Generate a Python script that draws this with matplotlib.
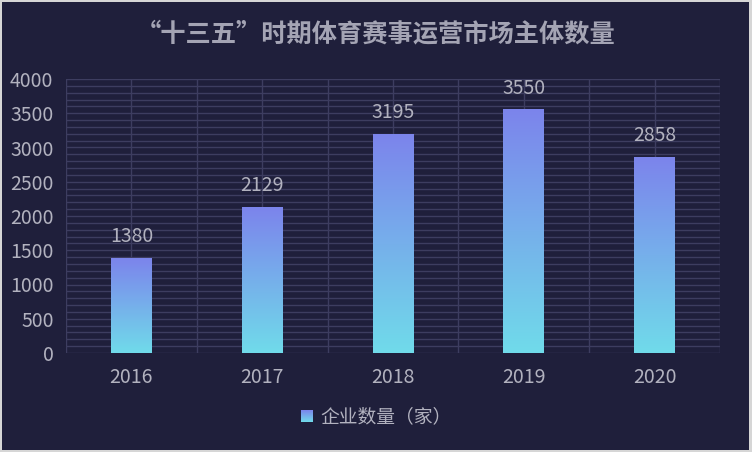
import numpy as np
import matplotlib.pyplot as plt
from matplotlib.patches import Rectangle
from matplotlib.colors import LinearSegmentedColormap

plt.rcParams['font.family'] = ['Noto Sans CJK SC', 'DejaVu Sans']

# 데이터
years = ['2016', '2017', '2018', '2019', '2020']
counts = [1380, 2129, 3195, 3550, 2858]
title = '“十三五”时期体育赛事运营市场主体数量'
legend_label = '企业数量（家）'

W, H = 752, 465
bg = '#1f1f3b'
grid_c = '#3d3d60'
txt_c = '#b2b2bf'
cmap = LinearSegmentedColormap.from_list('g', ['#70dbea', '#7c84ec'])

fig = plt.figure(figsize=(W / 100, H / 100), dpi=100, facecolor='white')

# 바깥 테두리 + 어두운 패널
fig.patches.append(Rectangle((0, (H - 452) / H), 1, 452 / H, transform=fig.transFigure,
                             facecolor='#d6d6d6', edgecolor='none', zorder=-2))
fig.patches.append(Rectangle((2 / W, (H - 450) / H), 747 / W, 448 / H, transform=fig.transFigure,
                             facecolor=bg, edgecolor='none', zorder=-1))

ax = fig.add_axes([66 / W, (H - 353) / H, 654 / W, 274 / H])
ax.set_facecolor('none')

# 격자
for y in range(0, 4001, 100):
    ax.axhline(y, color=grid_c, lw=1, zorder=1)
for x in np.arange(-0.5, len(years), 0.5):
    ax.axvline(x, color=grid_c, lw=1, zorder=1)

for s in ax.spines.values():
    s.set_visible(False)

# 그라데이션 막대
bw = 0.313
grad = np.linspace(0, 1, 256).reshape(-1, 1)
for i, v in enumerate(counts):
    ax.imshow(grad, cmap=cmap, origin='lower', aspect='auto',
              extent=(i - bw / 2, i + bw / 2, 0, v), zorder=2)
    ax.annotate(str(v), (i, v), xytext=(0, 8), textcoords='offset points',
                ha='center', va='bottom', color=txt_c, fontsize=14, zorder=3)
ax.set_xlim(-0.5, len(years) - 0.5)
ax.set_ylim(0, 4000)

ax.set_xticks(range(len(years)))
ax.set_xticklabels(years)
ax.set_yticks(range(0, 4001, 500))
ax.tick_params(length=0, colors=txt_c, labelsize=14)
ax.tick_params(axis='y', pad=9)
ax.tick_params(axis='x', pad=10)

fig.text(0.5, (H - 34) / H, title, ha='center', va='center', color='#a4a4b4',
         fontsize=18.2, fontweight='bold')

# 범례
lax = fig.add_axes([301 / W, (H - 422) / H, 12 / W, 12 / H])
lax.imshow(grad, cmap=cmap, origin='lower', aspect='auto')
lax.axis('off')
fig.text(320 / W, (H - 417) / H, legend_label, ha='left', va='center',
         color=txt_c, fontsize=13.5)

fig.savefig('out.png', dpi=100, facecolor='white')
